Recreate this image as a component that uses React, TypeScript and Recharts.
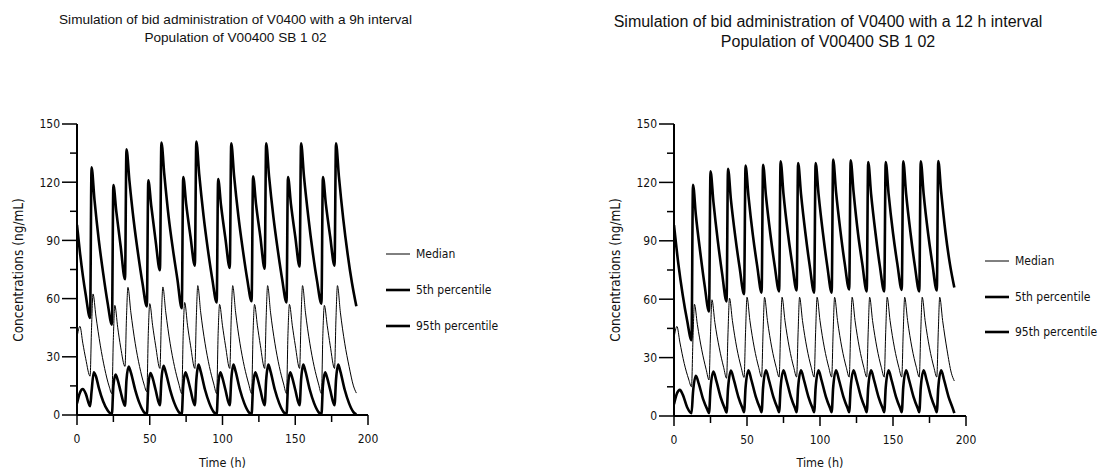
import React from 'react';
import { LineChart, Line, XAxis, YAxis } from 'recharts';

type Pt = [number, number];

// ---- 9 h interval (doses at 0, 9, 24, 33, ...) ----
const P95_9H: Pt[] = [
  [0, 98], [2, 84], [4, 72], [6, 62], [9, 50],
  [10, 127.7], [12, 111], [15, 90], [18, 73], [21, 58], [24, 46.6],
  [25, 118.5], [27, 105], [30, 87], [33, 70],
  [34, 137], [36, 121], [39, 100], [42, 83], [45, 68], [48, 56],
  [49, 121], [51, 108], [54, 90], [57, 74.6],
  [58, 140.5], [60, 124], [63, 102], [66, 85], [69, 70], [72, 55],
  [73, 122.7], [75, 109], [78, 92], [81, 77],
  [82, 141], [84, 124], [87, 102.5], [90, 85], [93, 70], [96, 58],
  [97, 121.6], [99, 108], [102, 91], [105, 75.8],
  [106, 140], [108, 123], [111, 102], [114, 85], [117, 70], [120, 58.6],
  [121, 123], [123, 109], [126, 92], [129, 75.4],
  [130, 140], [132, 123], [135, 102], [138, 85], [141, 70], [144, 58],
  [145, 122.7], [147, 109], [150, 92], [153, 76.6],
  [154, 140], [156, 123], [159, 102], [162, 84], [165, 69], [168, 57.4],
  [169, 122.7], [171, 109], [174, 92], [177, 77],
  [178, 140], [180, 123], [183, 101], [186, 83], [189, 68], [192, 56],
];

const MED_9H: Pt[] = [
  [0, 40], [2, 45.7], [4, 37], [6, 29], [9, 20],
  [10, 45], [11, 62.4], [13, 51], [16, 36], [19, 24], [22, 15], [24, 11],
  [25, 40], [26, 56.5], [28, 45], [30, 35], [33, 25],
  [34, 50], [35, 65.8], [37, 53], [40, 37], [43, 25], [46, 16], [48, 12],
  [49, 42], [50, 57.4], [52, 46], [54, 36], [57, 24],
  [58, 50], [59, 66], [61, 53], [64, 37], [67, 25], [70, 16], [72, 11],
  [73, 42], [74, 58], [76, 46], [78, 36], [81, 24],
  [82, 50], [83, 66.7], [85, 53], [88, 37], [91, 25], [94, 16], [96, 11],
  [97, 42], [98, 57], [100, 46], [102, 36], [105, 24],
  [106, 50], [107, 66.7], [109, 53], [112, 37], [115, 25], [118, 16], [120, 11],
  [121, 42], [122, 57], [124, 46], [126, 36], [129, 24],
  [130, 50], [131, 66.7], [133, 53], [136, 37], [139, 25], [142, 16], [144, 11],
  [145, 42], [146, 57], [148, 46], [150, 36], [153, 24],
  [154, 50], [155, 66.7], [157, 53], [160, 37], [163, 25], [166, 16], [168, 11],
  [169, 42], [170, 56.5], [172, 46], [174, 36], [177, 24],
  [178, 50], [179, 66.7], [181, 53], [184, 37], [187, 25], [190, 15], [192, 11.3],
];

const P5_9H: Pt[] = [
  [0, 6], [2, 11.5], [4, 13.4], [6, 11], [9, 4.5],
  [10, 12], [11.5, 22], [13, 20], [15, 14], [18, 7], [21, 2.5], [24, 0.5],
  [25, 15], [26.5, 20.8], [28, 18], [30, 12], [33, 4.8],
  [34, 18], [35.5, 25], [37, 22], [40, 13], [43, 6], [46, 1.5], [48, 0.3],
  [49, 15], [50.5, 21.6], [52, 19], [54, 13], [57, 5],
  [58, 18], [59.5, 25.4], [61, 22], [64, 13], [67, 6], [70, 1.5], [72, 0.3],
  [73, 15], [74.5, 22], [76, 19], [78, 13], [81, 5],
  [82, 18], [83.5, 26], [85, 22.5], [88, 13], [91, 6], [94, 1.5], [96, 0.3],
  [97, 15], [98.5, 22], [100, 19], [102, 13], [105, 5],
  [106, 18], [107.5, 26], [109, 22.5], [112, 13], [115, 6], [118, 1.5], [120, 0.3],
  [121, 15], [122.5, 22], [124, 19], [126, 13], [129, 5],
  [130, 18], [131.5, 26], [133, 22.5], [136, 13], [139, 6], [142, 1.5], [144, 0.3],
  [145, 15], [146.5, 22], [148, 19], [150, 13], [153, 5],
  [154, 18], [155.5, 26], [157, 22.5], [160, 13], [163, 6], [166, 1.5], [168, 0.3],
  [169, 15], [170.5, 22], [172, 19], [174, 13], [177, 5],
  [178, 18], [179.5, 26], [181, 22.5], [184, 13], [187, 6], [190, 1.5], [192, 0.3],
];

// ---- 12 h interval (doses every 12 h) ----
const P95_12H: Pt[] = [
  [0, 98], [3, 78], [6, 62], [9, 49], [12, 39],
  [13, 118.8], [15, 103], [18, 84], [21, 67], [24, 53.7],
  [25, 125.7], [27, 110], [30, 90], [33, 73], [36, 58.8],
  [37, 127], [39, 111], [42, 92], [45, 76], [48, 62.6],
  [49, 128.6], [51, 113], [54, 93], [57, 77], [60, 63.4],
  [61, 129], [63, 113], [66, 93.5], [69, 77], [72, 64],
  [73, 130.8], [75, 114], [78, 94], [81, 78], [84, 64.5],
  [85, 130], [87, 114], [90, 94], [93, 77], [96, 63.4],
  [97, 130], [99, 114], [102, 94], [105, 77], [108, 63.4],
  [109, 131.7], [111, 115], [114, 95], [117, 78], [120, 65],
  [121, 131.3], [123, 115], [126, 94], [129, 78], [132, 64],
  [133, 130.5], [135, 114], [138, 94], [141, 77], [144, 64],
  [145, 130.5], [147, 114], [150, 94], [153, 78], [156, 64.8],
  [157, 130.8], [159, 114], [162, 94], [165, 77], [168, 64],
  [169, 130.8], [171, 114], [174, 94], [177, 78], [180, 64.5],
  [181, 131], [183, 115], [186, 94], [189, 78], [192, 66],
];

const MED_12H: Pt[] = [
  [0, 40], [2, 46], [4, 38], [7, 27], [10, 19], [12, 15],
  [13, 40], [14, 57.4], [16, 47], [19, 34], [22, 24], [24, 18.5],
  [25, 42], [26, 59.7], [28, 48], [31, 35], [34, 25], [36, 19.4],
  [37, 43], [38, 60.5], [40, 49], [43, 35], [46, 25], [48, 19.8],
  [49, 43], [50, 61], [52, 49], [55, 35], [58, 25], [60, 20],
  [61, 43], [62, 61], [64, 49], [67, 35], [70, 25], [72, 20],
  [73, 43], [74, 61], [76, 49], [79, 35], [82, 25], [84, 20],
  [85, 43], [86, 61], [88, 49], [91, 35], [94, 25], [96, 20],
  [97, 43], [98, 61], [100, 49], [103, 35], [106, 25], [108, 20],
  [109, 43], [110, 61], [112, 49], [115, 35], [118, 25], [120, 20],
  [121, 43], [122, 61], [124, 49], [127, 35], [130, 25], [132, 20],
  [133, 43], [134, 61], [136, 49], [139, 35], [142, 25], [144, 20],
  [145, 43], [146, 61], [148, 49], [151, 35], [154, 25], [156, 20],
  [157, 43], [158, 61], [160, 49], [163, 35], [166, 25], [168, 20],
  [169, 43], [170, 61], [172, 49], [175, 35], [178, 25], [180, 20],
  [181, 43], [182, 61], [184, 49], [187, 34], [190, 22], [192, 18],
];

const P5_12H: Pt[] = [
  [0, 6], [2, 11.5], [4, 13.4], [6, 11], [9, 4.5], [12, 1.4],
  [13, 12], [15, 20.6], [17, 16.5], [20, 8.5], [23, 3], [24, 1.5],
  [25, 14], [27, 22.8], [29, 18], [32, 9.5], [35, 3.5], [36, 1.8],
  [37, 14], [39, 23.3], [41, 18.5], [44, 10], [47, 3.8], [48, 2],
  [49, 14.5], [51, 23.5], [53, 18.5], [56, 10], [59, 3.8], [60, 2],
  [61, 14.5], [63, 23.5], [65, 18.5], [68, 10], [71, 3.8], [72, 2],
  [73, 14.5], [75, 23.5], [77, 18.5], [80, 10], [83, 3.8], [84, 2],
  [85, 14.5], [87, 23.5], [89, 18.5], [92, 10], [95, 3.8], [96, 2],
  [97, 14.5], [99, 23.5], [101, 18.5], [104, 10], [107, 3.8], [108, 2],
  [109, 14.5], [111, 23.5], [113, 18.5], [116, 10], [119, 3.8], [120, 2],
  [121, 14.5], [123, 23.5], [125, 18.5], [128, 10], [131, 3.8], [132, 2],
  [133, 14.5], [135, 23.5], [137, 18.5], [140, 10], [143, 3.8], [144, 2],
  [145, 14.5], [147, 23.5], [149, 18.5], [152, 10], [155, 3.8], [156, 2],
  [157, 14.5], [159, 23.5], [161, 18.5], [164, 10], [167, 3.8], [168, 2],
  [169, 14.5], [171, 23.5], [173, 18.5], [176, 10], [179, 3.8], [180, 2],
  [181, 14.5], [183, 23.5], [185, 18.5], [188, 10], [191, 3.8], [192, 1.5],
];

const X_TICKS = [0, 25, 50, 75, 100, 125, 150, 175, 200];
const Y_TICKS = [0, 15, 30, 45, 60, 75, 90, 105, 120, 135, 150];
const LEGEND_LABELS = ['Median', '5th percentile', '95th percentile'];

const TICK_FONT = '"DejaVu Sans Condensed", "DejaVu Sans", sans-serif';
const TITLE_FONT = '"Liberation Sans", Arial, sans-serif';

const toRows = (pts: Pt[]) => pts.map(([t, v]) => ({ t, v }));

function XTick(props: any) {
  const { x, y, payload } = props;
  const major = payload.value % 50 === 0;
  return (
    <g>
      <line x1={x} y1={y} x2={x} y2={y + (major ? 10 : 7)} stroke="#000" strokeWidth={1.5} />
      {major && (
        <text x={x} y={y + 28} textAnchor="middle" fontSize={12} fontFamily={TICK_FONT} fill="#111">
          {payload.value}
        </text>
      )}
    </g>
  );
}

function YTick(props: any) {
  const { x, y, payload } = props;
  const major = payload.value % 30 === 0;
  return (
    <g>
      <line x1={x - (major ? 15 : 7)} y1={y} x2={x} y2={y} stroke="#000" strokeWidth={1.5} />
      {major && (
        <text x={x - 17} y={y + 4.4} textAnchor="end" fontSize={12} fontFamily={TICK_FONT} fill="#111">
          {payload.value}
        </text>
      )}
    </g>
  );
}

interface PanelProps {
  left: number;
  width: number;
  yAxisWidth: number;
  rightMargin: number;
  bottom: number;
  title: string[];
  titleSize: number;
  titleX: number;
  titleY: number[];
  yLabelX: number;
  legendX: number;
  legendY: number[];
  median: Pt[];
  p5: Pt[];
  p95: Pt[];
}

function Panel(p: PanelProps) {
  const plotLeft = p.left + p.yAxisWidth;
  const plotRight = p.left + p.width - p.rightMargin;
  return (
    <>
      {p.title.map((line, i) => (
        <div
          key={i}
          style={{
            position: 'absolute', left: p.titleX, top: p.titleY[i], transform: 'translate(-50%, -50%)',
            fontFamily: TITLE_FONT, fontSize: p.titleSize, whiteSpace: 'nowrap', color: '#111',
          }}
        >
          {line}
        </div>
      ))}
      <div style={{ position: 'absolute', left: p.left, top: 0 }}>
        <LineChart
          width={p.width}
          height={470}
          margin={{ top: 124, right: p.rightMargin, left: 0, bottom: 0 }}
        >
          <XAxis
            dataKey="t"
            type="number"
            domain={[0, 200]}
            ticks={X_TICKS}
            interval={0}
            height={470 - p.bottom}
            tickSize={0}
            tickMargin={0}
            tickLine={false}
            tick={<XTick />}
            axisLine={{ stroke: '#000', strokeWidth: 2 }}
            allowDataOverflow
          />
          <YAxis
            type="number"
            domain={[0, 150]}
            ticks={Y_TICKS}
            interval={0}
            width={p.yAxisWidth}
            tickSize={0}
            tickMargin={0}
            tickLine={false}
            tick={<YTick />}
            axisLine={{ stroke: '#000', strokeWidth: 2 }}
          />
          <Line data={toRows(p.p95)} dataKey="v" type="monotone" stroke="#000" strokeWidth={2.6} dot={false} activeDot={false} isAnimationActive={false} />
          <Line data={toRows(p.median)} dataKey="v" type="monotone" stroke="#000" strokeWidth={1} dot={false} activeDot={false} isAnimationActive={false} />
          <Line data={toRows(p.p5)} dataKey="v" type="monotone" stroke="#000" strokeWidth={2.6} dot={false} activeDot={false} isAnimationActive={false} />
        </LineChart>
      </div>
      <div
        style={{
          position: 'absolute', left: p.yLabelX, top: 270, transform: 'translate(-50%, -50%) rotate(-90deg)',
          fontFamily: TICK_FONT, fontSize: 13.5, whiteSpace: 'nowrap', color: '#111',
        }}
      >
        Concentrations (ng/mL)
      </div>
      <div
        style={{
          position: 'absolute', left: (plotLeft + plotRight) / 2, top: 462, transform: 'translate(-50%, -50%)',
          fontFamily: TICK_FONT, fontSize: 12.5, whiteSpace: 'nowrap', color: '#111',
        }}
      >
        Time (h)
      </div>
      {LEGEND_LABELS.map((label, i) => (
        <div
          key={label}
          style={{
            position: 'absolute', left: p.legendX, top: p.legendY[i], transform: 'translateY(-50%)',
            display: 'flex', alignItems: 'center', fontFamily: TICK_FONT, fontSize: 12, color: '#111',
            whiteSpace: 'nowrap',
          }}
        >
          <svg width={24} height={6} style={{ marginRight: 6 }}>
            <line x1={0} y1={3} x2={24} y2={3} stroke="#000" strokeWidth={i === 0 ? 1 : 2.6} />
          </svg>
          {label}
        </div>
      ))}
    </>
  );
}

export default function App() {
  return (
    <div style={{ position: 'absolute', left: 0, top: 0, width: 1103, height: 470, background: '#fff', overflow: 'hidden' }}>
      <Panel
        left={0}
        width={560}
        yAxisWidth={77}
        rightMargin={192}
        bottom={415}
        title={['Simulation of bid administration of V0400 with a 9h interval', 'Population of V00400 SB 1 02']}
        titleSize={13.6}
        titleX={235.5}
        titleY={[19, 37]}
        yLabelX={18}
        legendX={386}
        legendY={[254, 290, 326]}
        median={MED_9H}
        p5={P5_9H}
        p95={P95_9H}
      />
      <Panel
        left={560}
        width={543}
        yAxisWidth={114}
        rightMargin={137}
        bottom={416}
        title={['Simulation of bid administration of V0400 with a 12 h interval', 'Population of V00400 SB 1 02']}
        titleSize={16}
        titleX={828}
        titleY={[21.5, 42]}
        yLabelX={615}
        legendX={985}
        legendY={[261, 297, 332]}
        median={MED_12H}
        p5={P5_12H}
        p95={P95_12H}
      />
    </div>
  );
}
